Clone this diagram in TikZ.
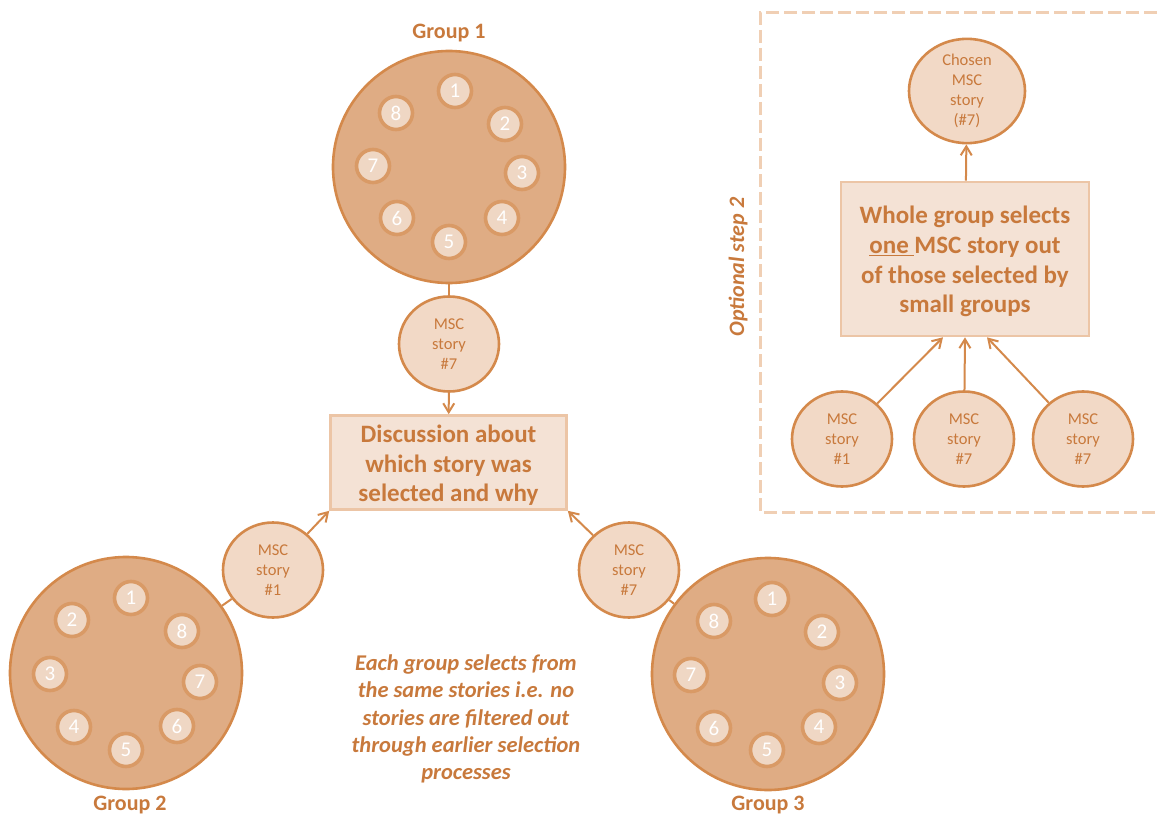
\documentclass[tikz,border=0pt]{standalone}
\usepackage{fontspec}
\setmainfont{Carlito}
\usetikzlibrary{shapes.geometric,arrows.meta}
\definecolor{ink}{HTML}{C8793C}
\definecolor{rim}{HTML}{D4894B}
\definecolor{bigfill}{HTML}{DFAC84}
\definecolor{seatfill}{HTML}{EFD7C4}
\definecolor{seatrim}{HTML}{D99A66}
\definecolor{storyfill}{HTML}{F2D9C6}
\definecolor{boxfill}{HTML}{F4E2D5}
\definecolor{boxrim}{HTML}{ECC5A6}
\definecolor{dashrim}{HTML}{F0CFB4}
\tikzset{
  group/.style={circle, draw=rim, fill=bigfill, line width=2.6pt, minimum size=232pt, inner sep=0pt},
  seat/.style={circle, draw=seatrim, fill=seatfill, line width=3.6pt, minimum size=33pt, inner sep=0pt,
    text=white, font=\fontsize{21}{21}\selectfont},
  story/.style={ellipse, draw=rim, fill=storyfill, line width=2.6pt, minimum width=100pt, minimum height=95pt,
    inner sep=0pt, text=ink, align=center, font=\fontsize{16.5}{20}\selectfont},
  panel/.style={rectangle, draw=boxrim, fill=boxfill, line width=2.6pt, inner sep=0pt, text=ink,
    align=center, font=\bfseries\fontsize{25}{29.7}\selectfont},
  grouplabel/.style={text=ink, font=\bfseries\fontsize{22}{22}\selectfont},
  link/.style={draw=rim, line width=2pt},
  flow/.style={draw=rim, line width=2pt, -{Straight Barb[length=9pt,width=11pt,line width=2pt]}},
}
\begin{document}
\begin{tikzpicture}[x=1pt,y=-1pt]
\useasboundingbox (0,0) rectangle (1160,816);

% optional second step frame
\draw[dashrim, line width=3pt, dash pattern=on 13pt off 5pt] (1175,13) -- (760,13) -- (760,512) -- (1175,512);
\node[rotate=90, text=ink, font=\bfseries\itshape\fontsize{22}{22}\selectfont] (opt) at (738,267) {Optional step 2};

% group 1
\node[group] (g1) at (449,167) {};
\node[grouplabel] (g1lab) at (449,33) {Group 1};
\foreach \n/\x/\y in {1/455/91, 2/505/124, 3/522/173, 4/502/218, 5/449/242, 6/397/218, 7/373/166, 8/396/113}
  \node[seat] (g1s\n) at (\x,\y) {\n};

% group 2
\node[group] (g2) at (126,673) {};
\node[grouplabel] (g2lab) at (130,805) {Group 2};
\foreach \n/\x/\y in {1/131/598, 2/72/620, 3/50/674, 4/74/727, 5/126/750, 6/177/726, 7/200/682, 8/182/631}
  \node[seat] (g2s\n) at (\x,\y) {\n};

% group 3
\node[group] (g3) at (768,674) {};
\node[grouplabel] (g3lab) at (768,805) {Group 3};
\foreach \n/\x/\y in {1/772/599, 2/822/632, 3/840/683, 4/819/727, 5/767/750, 6/714/728, 7/691/675, 8/714/621}
  \node[seat] (g3s\n) at (\x,\y) {\n};

% stories picked by each group
\node[story] (s1) at (449,344) {MSC\\story\\\#7};
\node[story] (s2) at (273,570) {MSC\\story\\\#1};
\node[story] (s3) at (629,570) {MSC\\story\\\#7};

% discussion box
\node[panel, minimum width=236pt, minimum height=94pt] (disc) at (448.5,462.5) {};
\node[text=ink, align=center, font=\bfseries\fontsize{25}{29.5}\selectfont] (disctext) at (448.5,465.5)
  {Discussion about\\which story was\\selected and why};

\draw[link] (g1) -- (s1);
\draw[flow] (s1) -- (disc);
\draw[link] (g2) -- (s2);
\draw[flow] (s2) -- (disc.south west);
\draw[link] (g3) -- (s3);
\draw[flow] (s3) -- (disc.south east);

\node[text=ink, align=center, font=\bfseries\itshape\fontsize{22.5}{27.3}\selectfont] (note) at (466,719)
  {Each group selects from\\the same stories i.e. no\\stories are filtered out\\through earlier selection\\processes};

% optional step 2
\node[panel, minimum width=248pt, minimum height=154pt] (whole) at (965,259) {};
\node[text=ink, align=center, font=\bfseries\fontsize{25}{29.7}\selectfont] (wholetext) at (965,261.5)
  {Whole group selects\\\underline{one }MSC story out\\of those selected by\\small groups};
\node[story, minimum width=116pt, minimum height=102pt, font=\fontsize{16.5}{20}\selectfont] (chosen) at (967,91)
  {Chosen\\MSC\\story\\(\#7)};
\node[story] (r1) at (842,439) {MSC\\story\\\#1};
\node[story] (r2) at (964,439) {MSC\\story\\\#7};
\node[story] (r3) at (1083,439) {MSC\\story\\\#7};

\coordinate (inL) at ([xshift=-22pt]whole.south);
\coordinate (inM) at (whole.south);
\coordinate (inR) at ([xshift=22pt]whole.south);
\draw[flow] (whole) -- (chosen);
\draw[flow] (r1) -- (inL);
\draw[flow] (r2) -- (inM);
\draw[flow] (r3) -- (inR);
\end{tikzpicture}
\end{document}
